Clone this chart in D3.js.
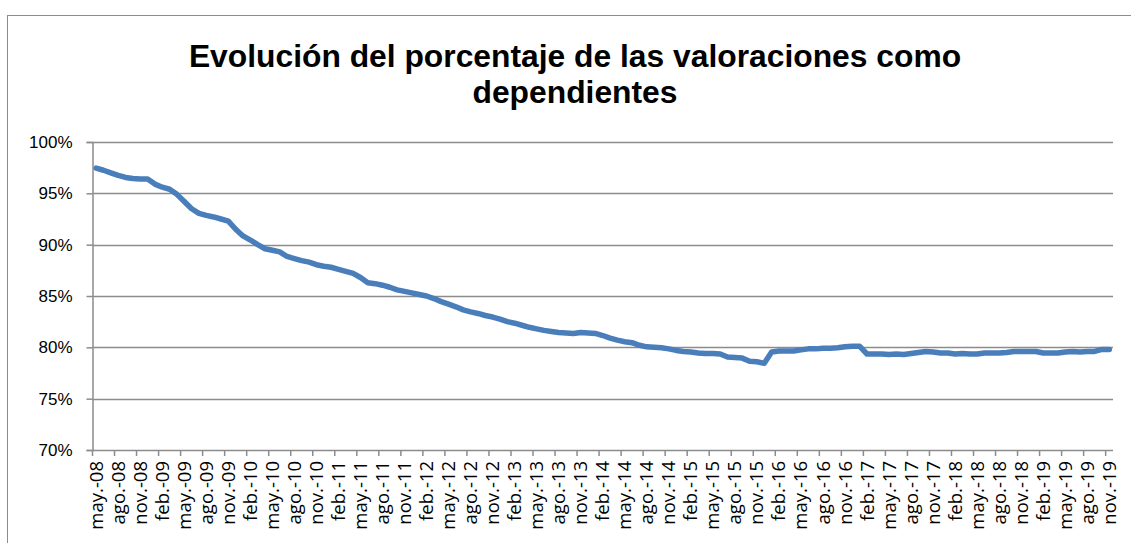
<!DOCTYPE html>
<meta charset="utf-8">
<title>valoraciones dependientes</title>
<style>
  body { margin: 0; background: #fff; }
</style>
<body>
<script src="https://d3js.org/d3.v7.min.js"></script>
<script>
var width = 1131, height = 543;

// monthly share, may-08 .. nov-19
var meses = ["ene.", "feb.", "mar.", "abr.", "may.", "jun.", "jul.", "ago.", "sep.", "oct.", "nov.", "dic."];
var porcentaje = [
  97.45, 97.25, 97.0, 96.75, 96.55, 96.45, 96.4, 96.4, 95.9, 95.6,
  95.4, 94.9, 94.2, 93.5, 93.05, 92.85, 92.7, 92.5, 92.3, 91.5,
  90.85, 90.45, 90.0, 89.6, 89.45, 89.3, 88.85, 88.65, 88.45, 88.3,
  88.05, 87.9, 87.8, 87.6, 87.4, 87.2, 86.8, 86.3, 86.2, 86.05,
  85.85, 85.6, 85.45, 85.3, 85.15, 85.0, 84.75, 84.45, 84.2, 83.95,
  83.65, 83.45, 83.3, 83.1, 82.95, 82.75, 82.5, 82.35, 82.15, 81.95,
  81.8, 81.65, 81.55, 81.45, 81.4, 81.35, 81.45, 81.4, 81.35, 81.15,
  80.9, 80.7, 80.55, 80.45, 80.2, 80.05, 80.0, 79.95, 79.85, 79.7,
  79.6, 79.55, 79.45, 79.4, 79.4, 79.35, 79.05, 79.0, 78.95, 78.65,
  78.6, 78.45, 79.55, 79.65, 79.65, 79.65, 79.75, 79.85, 79.85, 79.9,
  79.9, 79.95, 80.05, 80.1, 80.1, 79.35, 79.35, 79.35, 79.3, 79.35,
  79.3, 79.4, 79.5, 79.6, 79.55, 79.45, 79.45, 79.35, 79.4, 79.35,
  79.35, 79.45, 79.45, 79.45, 79.5, 79.6, 79.6, 79.6, 79.6, 79.45,
  79.45, 79.45, 79.55, 79.6, 79.55, 79.6, 79.6, 79.8, 79.8
];
var yTicks = [70, 75, 80, 85, 90, 95, 100];

// category labels "may.-08" etc.
var etiquetas = porcentaje.map(function(d, i) {
  var m = (4 + i) % 12, a = 8 + Math.floor((4 + i) / 12);
  return meses[m] + "-" + (a < 10 ? "0" + a : "" + a);
});

var margin = {top: 142, left: 92.5, right: 18, bottom: 93};

var svg = d3.select("body").append("svg")
    .attr("width", width)
    .attr("height", height);

// chart area border (cut by the picture edges)
svg.append("rect")
    .attr("x", 7.5).attr("y", 15.5)
    .attr("width", 1200).attr("height", 600)
    .attr("fill", "none")
    .attr("stroke", "#8c8c8c");

var x = d3.scaleBand()
    .domain(d3.range(porcentaje.length))
    .range([margin.left, width - margin.right])
    .paddingInner(0).paddingOuter(0);

var y = d3.scaleLinear()
    .domain([70, 100])
    .range([height - margin.bottom, margin.top]);

// grid lines
svg.append("g").selectAll("line")
    .data(yTicks.slice(1))
  .enter().append("line")
    .attr("x1", margin.left).attr("x2", width - margin.right)
    .attr("y1", function(d) { return Math.round(y(d)) + 0.5; })
    .attr("y2", function(d) { return Math.round(y(d)) + 0.5; })
    .attr("stroke", "#8c8c8c")
    .attr("stroke-width", 1.5);

// y axis
var yAxis = d3.axisLeft(y)
    .tickValues(yTicks)
    .tickSize(6)
    .tickPadding(14)
    .tickFormat(function(d) { return d + "%"; });
var gy = svg.append("g")
    .attr("transform", "translate(" + margin.left + ",0)")
    .call(yAxis);
gy.selectAll("line").attr("stroke", "#8c8c8c").attr("stroke-width", 1.5);
gy.select(".domain").attr("stroke", "#8c8c8c").attr("stroke-width", 1.5);
gy.selectAll("text")
    .attr("font-family", "'Liberation Sans', Arial, sans-serif")
    .attr("font-size", 17)
    .attr("fill", "#000");

// x axis: ticks between categories every 3 months
var xBottom = y(70);
var gx = svg.append("g");
gx.append("line")
    .attr("x1", margin.left).attr("x2", width - margin.right)
    .attr("y1", Math.round(xBottom) + 0.5).attr("y2", Math.round(xBottom) + 0.5)
    .attr("stroke", "#8c8c8c").attr("stroke-width", 1.5);
var marcas = d3.range(0, porcentaje.length, 3);
gx.selectAll("line.tick")
    .data(marcas)
  .enter().append("line")
    .attr("class", "tick")
    .attr("x1", function(i) { return x(i); })
    .attr("x2", function(i) { return x(i); })
    .attr("y1", xBottom).attr("y2", xBottom + 6)
    .attr("stroke", "#8c8c8c").attr("stroke-width", 1.5);
gx.selectAll("text")
    .data(marcas)
  .enter().append("text")
    .attr("transform", function(i) {
      return "translate(" + (x(i) + x.bandwidth() / 2 + 6.5) + "," + (xBottom + 11) + ") rotate(-90)";
    })
    .attr("text-anchor", "end")
    .attr("font-family", "'Open Sans', sans-serif")
    .attr("font-size", 18.5)
    .attr("fill", "#000")
    .text(function(i) { return etiquetas[i]; });

// series line
var line = d3.line()
    .x(function(d, i) { return x(i) + x.bandwidth() / 2; })
    .y(function(d) { return y(d); });
svg.append("path")
    .datum(porcentaje)
    .attr("d", line)
    .attr("fill", "none")
    .attr("stroke", "#4a7ebb")
    .attr("stroke-width", 5.5)
    .attr("stroke-linejoin", "round")
    .attr("stroke-linecap", "round");

// title
var title = svg.append("text")
    .attr("text-anchor", "middle")
    .attr("font-family", "'Liberation Sans', Arial, sans-serif")
    .attr("font-weight", "bold")
    .attr("font-size", 31.8)
    .attr("fill", "#000");
title.append("tspan").attr("x", 575).attr("y", 67)
    .text("Evolución del porcentaje de las valoraciones como");
title.append("tspan").attr("x", 575).attr("y", 103)
    .text("dependientes");
</script>
